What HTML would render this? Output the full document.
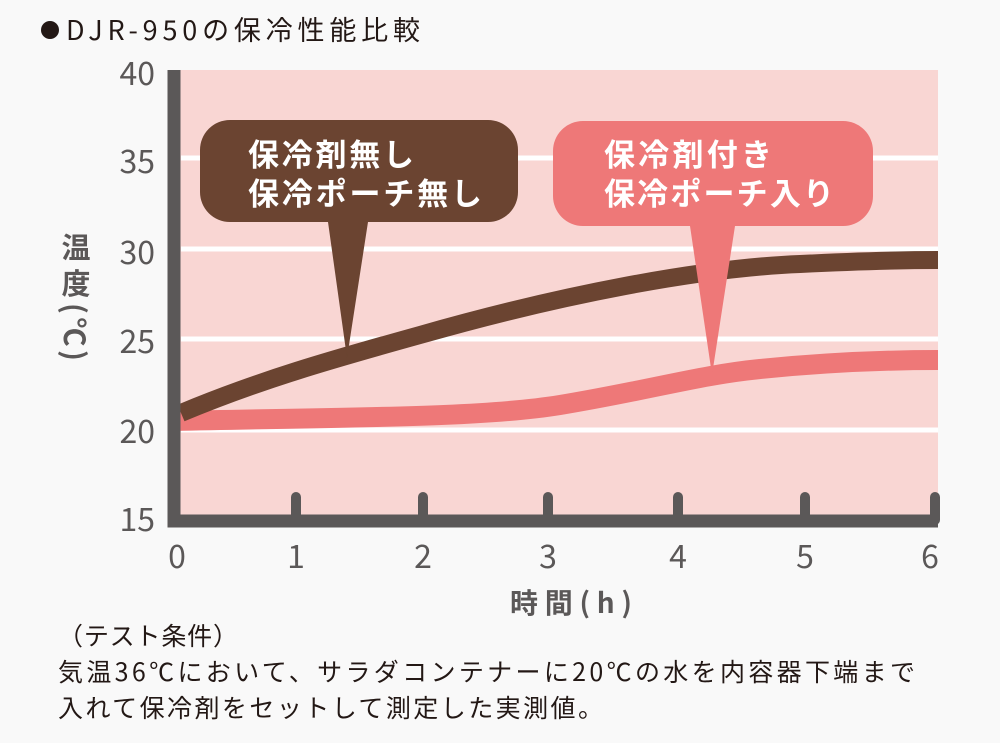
<!DOCTYPE html>
<html><head><meta charset="utf-8"><style>
body{margin:0;background:#f9f9f9;width:1000px;height:738px;overflow:hidden}
svg text{font-family:"Noto Sans CJK JP","Liberation Sans",sans-serif}
</style></head><body>
<svg width="1000" height="738" viewBox="0 0 1000 738" xmlns="http://www.w3.org/2000/svg">
<rect width="1000" height="738" fill="#f9f9f9"/>
<circle cx="50" cy="30" r="9" fill="#231815"/>
<text x="66" y="40" font-size="27" fill="#231815" textLength="354">DJR-950の保冷性能比較</text>
<rect x="175" y="70" width="763" height="452" fill="#f9d6d3"/>
<g stroke="#fff" stroke-width="5">
<line x1="181" y1="158" x2="938" y2="158"/>
<line x1="181" y1="249" x2="938" y2="249"/>
<line x1="181" y1="339" x2="938" y2="339"/>
<line x1="181" y1="430" x2="938" y2="430"/>
</g>
<path d="M175,421 C350,417 480,418 560,405 C650,390 700,375 760,369 C830,362 890,360 938,360" stroke="#ee7878" stroke-width="20" fill="none"/>
<path d="M181,413 C260,380 330,360 420,335 C560,295 700,268 800,264 C860,261 900,260 938,260" stroke="#6b4431" stroke-width="18" fill="none"/>
<g stroke="#5b5858" stroke-linecap="round" stroke-width="10">
<line x1="296" y1="497" x2="296" y2="520"/><line x1="423" y1="497" x2="423" y2="520"/>
<line x1="548" y1="497" x2="548" y2="520"/><line x1="678" y1="497" x2="678" y2="520"/>
<line x1="805" y1="497" x2="805" y2="520"/><line x1="935" y1="497" x2="935" y2="520"/>
</g>
<path d="M174,70 V521 H938" stroke="#5b5858" stroke-width="13" fill="none"/>
<g font-size="32" fill="#5b5858" text-anchor="end">
<text x="155" y="85">40</text><text x="155" y="173">35</text><text x="155" y="264">30</text>
<text x="155" y="353">25</text><text x="155" y="443">20</text><text x="155" y="531">15</text>
</g>
<g font-size="32" fill="#5b5858" text-anchor="middle">
<text x="177" y="568">0</text><text x="296" y="568">1</text><text x="423" y="568">2</text>
<text x="548" y="568">3</text><text x="678" y="568">4</text><text x="805" y="568">5</text><text x="930" y="568">6</text>
</g>
<text x="510" y="613" font-size="28" fill="#5b5858" font-weight="bold" textLength="122">時間(h)</text>
<g font-size="29" fill="#5b5858" font-weight="bold" text-anchor="middle">
<text x="76" y="258">温</text><text x="76" y="294">度</text>
<text x="76" y="332" transform="rotate(90 76 332)" dominant-baseline="central" textLength="58">(℃)</text>
</g>
<path d="M230,120 H488 A30,30 0 0 1 518,150 V192 A30,30 0 0 1 488,222 H368 L347,358 L328,222 H230 A30,30 0 0 1 200,192 V150 A30,30 0 0 1 230,120Z" fill="#6b4431"/>
<path d="M583,121 H843 A30,30 0 0 1 873,151 V196 A30,30 0 0 1 843,226 H735 L712,375 L690,226 H583 A30,30 0 0 1 553,196 V151 A30,30 0 0 1 583,121Z" fill="#ee7878"/>
<g font-size="31" fill="#fff" font-weight="bold">
<text x="248" y="166" textLength="166">保冷剤無し</text><text x="248" y="205" textLength="234">保冷ポーチ無し</text>
<text x="604" y="166" textLength="168">保冷剤付き</text><text x="604" y="205" textLength="230">保冷ポーチ入り</text>
</g>
<g font-size="25" fill="#231815">
<text x="58" y="645" textLength="180">（テスト条件）</text>
<text x="58" y="681" textLength="857">気温36℃において、サラダコンテナーに20℃の水を内容器下端まで</text>
<text x="58" y="717" textLength="545">入れて保冷剤をセットして測定した実測値。</text>
</g>
</svg>
</body></html>
